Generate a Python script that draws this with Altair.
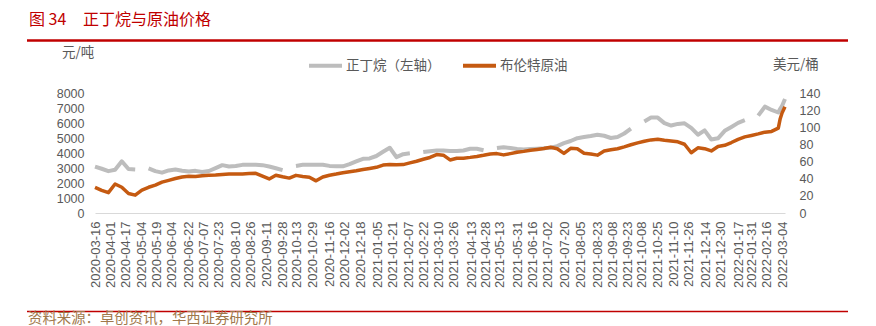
import altair as alt
import pandas as pd

# ---------------- data ----------------
dates = [
    "2020-03-16", "2020-03-23", "2020-03-30", "2020-04-06", "2020-04-13", "2020-04-20", "2020-04-27",
    "2020-05-04", "2020-05-11", "2020-05-18", "2020-05-25", "2020-06-01", "2020-06-08", "2020-06-15",
    "2020-06-22", "2020-06-29", "2020-07-06", "2020-07-13", "2020-07-20", "2020-07-27", "2020-08-03",
    "2020-08-10", "2020-08-17", "2020-08-24", "2020-08-31", "2020-09-07", "2020-09-14", "2020-09-21",
    "2020-09-28", "2020-10-05", "2020-10-12", "2020-10-19", "2020-10-26", "2020-11-02", "2020-11-09",
    "2020-11-16", "2020-11-23", "2020-11-30", "2020-12-07", "2020-12-14", "2020-12-21", "2020-12-28",
    "2021-01-04", "2021-01-11", "2021-01-18", "2021-01-25", "2021-02-01", "2021-02-08", "2021-02-15",
    "2021-02-22", "2021-03-01", "2021-03-08", "2021-03-15", "2021-03-22", "2021-03-29", "2021-04-05",
    "2021-04-12", "2021-04-19", "2021-04-26", "2021-05-03", "2021-05-10", "2021-05-17", "2021-05-24",
    "2021-05-31", "2021-06-07", "2021-06-14", "2021-06-21", "2021-06-28", "2021-07-05", "2021-07-12",
    "2021-07-19", "2021-07-26", "2021-08-02", "2021-08-09", "2021-08-16", "2021-08-23", "2021-08-30",
    "2021-09-06", "2021-09-13", "2021-09-20", "2021-09-27", "2021-10-04", "2021-10-11", "2021-10-18",
    "2021-10-25", "2021-11-01", "2021-11-08", "2021-11-15", "2021-11-22", "2021-11-29", "2021-12-06",
    "2021-12-13", "2021-12-20", "2021-12-27", "2022-01-03", "2022-01-10", "2022-01-17", "2022-01-24",
    "2022-01-31", "2022-02-07", "2022-02-14", "2022-02-21", "2022-02-28", "2022-03-02", "2022-03-04",
    "2022-03-07",
]

# 正丁烷 (元/吨), None = no data
butane = [
    3090, 2950, 2790, 2880, 3450, 2930, 2900,
    None, 2970, 2790, 2690, 2840, 2900, 2820,
    2760, 2810, 2730, 2800, 2990, 3190, 3100,
    3130, 3210, 3220, 3220, 3190, 3100, 2980,
    2860, None, 3140, 3210, 3220, 3220, 3220,
    3140, 3110, 3110, 3260, 3440, 3610, 3640,
    3800, 4080, 4350, 3720, 3920, 3980, None,
    4060, 4120, 4160, 4170, 4140, 4130, 4170,
    4280, 4280, 4180, None, 4330, 4390, 4330,
    4260, 4230, 4270, 4290, 4310, 4350, 4460,
    4660, 4800, 4990, 5060, 5130, 5220, 5150,
    5000, 5070, 5300, 5620, None, 6100, 6360,
    6360, 5990, 5830, 5940, 5980, 5680, 5220,
    5510, 4900, 4980, 5480, 5740, 6010, 6190,
    None, 6490, 7090, 6870, 6700, 6950, 7150,
    7600,
]

# 布伦特原油 (美元/桶)
brent = [
    30.0, 26.5, 23.7, 33.8, 30.0, 22.8, 20.8,
    26.8, 30.0, 32.5, 36.0, 38.1, 40.2, 42.0,
    43.0, 42.6, 43.5, 43.9, 44.2, 44.8, 45.4,
    45.5, 45.6, 46.0, 46.3, 42.9, 39.7, 44.0,
    42.2, 40.7, 43.9, 42.6, 41.7, 37.5, 42.0,
    44.1, 45.4, 47.0, 48.2, 49.3, 50.8, 52.0,
    53.3, 55.9, 56.6, 56.4, 56.5, 58.5, 60.4,
    62.7, 64.8, 68.2, 67.5, 61.9, 63.8, 64.0,
    64.9, 66.0, 67.3, 68.8, 69.3, 67.8, 69.3,
    70.8, 71.9, 73.3, 74.2, 75.2, 76.7, 75.0,
    69.5, 75.5, 75.0, 69.7, 68.8, 67.5, 72.3,
    73.7, 75.0, 77.2, 79.6, 81.8, 83.7, 85.3,
    86.0, 84.8, 84.0, 83.0, 80.2, 70.3, 76.0,
    75.0, 72.4, 77.6, 79.0, 82.2, 85.9, 88.8,
    90.5, 92.3, 94.3, 95.2, 99.0, 110.0, 117.0,
    124.0,
]

x_tick_labels = [
    "2020-03-16", "2020-04-01", "2020-04-17", "2020-05-04", "2020-05-19", "2020-06-04", "2020-06-22",
    "2020-07-07", "2020-07-23", "2020-08-10", "2020-08-26", "2020-09-11", "2020-09-28", "2020-10-13",
    "2020-10-29", "2020-11-16", "2020-12-02", "2020-12-18", "2021-01-05", "2021-01-21", "2021-02-07",
    "2021-02-22", "2021-03-10", "2021-03-26", "2021-04-13", "2021-04-28", "2021-05-13", "2021-05-31",
    "2021-06-16", "2021-07-02", "2021-07-20", "2021-08-05", "2021-08-23", "2021-09-08", "2021-09-23",
    "2021-10-08", "2021-10-25", "2021-11-10", "2021-11-26", "2021-12-14", "2021-12-30", "2022-01-17",
    "2022-01-31", "2022-02-16", "2022-03-04",
]
left_ticks = [0, 1000, 2000, 3000, 4000, 5000, 6000, 7000, 8000]
right_ticks = [0, 20, 40, 60, 80, 100, 120, 140]

series_names = ["正丁烷（左轴）", "布伦特原油"]
series_colors = ["#BDBDBD", "#C55A11"]

title_no = "图 34"
title_text = "正丁烷与原油价格"
left_unit = "元/吨"
right_unit = "美元/桶"
source_text = "资料来源：卓创资讯，华西证券研究所"

# ---------------- build ----------------
def dt(s):
    y, m, d = (int(p) for p in s.split("-"))
    return alt.DateTime(year=y, month=m, date=d, utc=True)

df = pd.DataFrame({"date": dates, series_names[0]: butane, series_names[1]: brent})
long = df.melt("date", var_name="series", value_name="value")

CJK = "Noto Sans CJK SC"
LAT = "Liberation Sans"
AX = "#595959"

x_enc = alt.X(
    "date:T",
    scale=alt.Scale(type="utc", domain=[dt(dates[0]), dt(dates[-1])], nice=False),
    axis=alt.Axis(
        values=[dt(s) for s in x_tick_labels], format="%Y-%m-%d", labelAngle=270,
        labelFont=LAT, labelFontSize=13, labelColor=AX, labelPadding=8,
        labelOverlap=False, labelFlush=False, labelBound=False,
        ticks=False, tickSize=0, grid=False,
        domainColor="#D9D9D9", domainWidth=1, title=None,
    ),
)

color_enc = alt.Color(
    "series:N",
    scale=alt.Scale(domain=series_names, range=series_colors),
    legend=alt.Legend(
        orient="none", legendX=212, legendY=-46, direction="horizontal", title=None,
        symbolType="stroke", symbolSize=1089, symbolStrokeWidth=4,
        labelFont=CJK, labelFontSize=13.5, labelColor=AX, labelOffset=2,
        columnPadding=14, labelLimit=300,
    ),
)

base = alt.Chart(long)

gray_line = base.transform_filter(alt.datum.series == series_names[0]).mark_line(
    strokeWidth=4, strokeJoin="round"
).encode(
    x=x_enc,
    y=alt.Y(
        "value:Q",
        scale=alt.Scale(domain=[0, 8000], nice=False, zero=True),
        axis=alt.Axis(
            values=left_ticks, orient="left", labelFont=LAT, labelFontSize=12.5,
            labelColor=AX, labelPadding=11, ticks=False, tickSize=0, domain=False,
            grid=False, title=None, format="d",
        ),
    ),
    color=color_enc,
)

orange_line = base.transform_filter(alt.datum.series == series_names[1]).mark_line(
    strokeWidth=3.5, strokeJoin="round"
).encode(
    x=x_enc,
    y=alt.Y(
        "value:Q",
        scale=alt.Scale(domain=[0, 140], nice=False, zero=True),
        axis=alt.Axis(
            values=right_ticks, orient="right", labelFont=LAT, labelFontSize=12.5,
            labelColor=AX, labelPadding=14, ticks=False, tickSize=0, domain=False,
            grid=False, title=None, format="d",
        ),
    ),
    color=color_enc,
)

def label(text, x, y, size, color, font=CJK, weight="normal"):
    return alt.Chart(pd.DataFrame({"t": [text]})).mark_text(
        align="left", baseline="middle", font=font, fontSize=size, color=color,
        fontWeight=weight,
    ).encode(x=alt.value(x), y=alt.value(y), text="t:N")

def hline(x1, x2, y, color, width):
    return alt.Chart(pd.DataFrame({"a": [0]})).mark_rule(
        color=color, strokeWidth=width
    ).encode(x=alt.value(x1), x2=alt.value(x2), y=alt.value(y))

RED = "#C00000"

chart = alt.layer(
    gray_line,
    orange_line,
    label(title_no, -66, -73, 16, RED),
    label(title_text, -12, -73, 16, RED),
    hline(-68, 753, -52.5, RED, 2.5),
    label(left_unit, -33, -40, 13.5, AX),
    label(right_unit, 678, -28, 13.5, AX),
    hline(-68, 753, 218.5, RED, 1.5),
    label(source_text, -67, 226, 14.4, "#A0784B"),
).resolve_scale(
    y="independent"
).properties(
    width=690,
    height=120,
    autosize=alt.AutoSizeParams(type="none"),
    padding={"left": 95, "top": 93, "right": 91, "bottom": 113},
    background="white",
).configure_view(
    stroke=None
)

chart.save("out.html", embed_options={"renderer": "svg", "actions": False})
